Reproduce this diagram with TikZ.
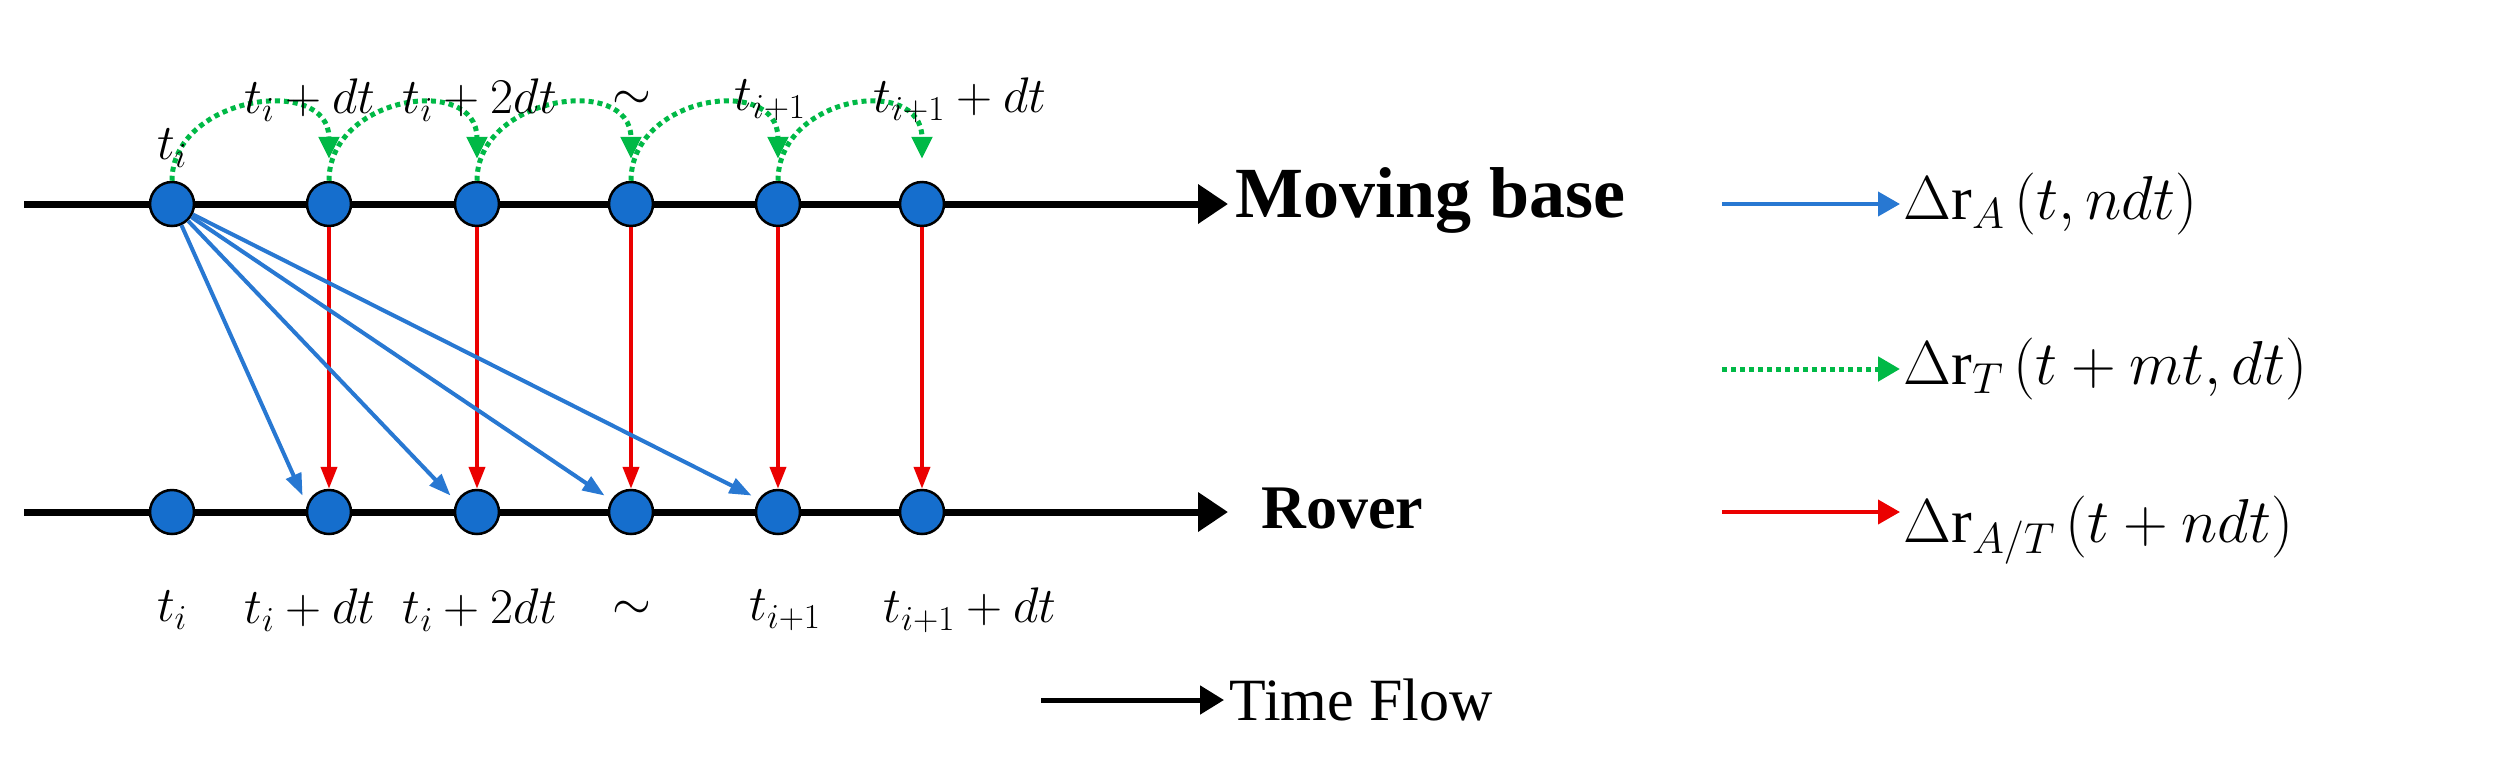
\RequirePackage{fix-cm}
\documentclass[tikz,border=0pt]{standalone}
\usepackage{fontspec}
\setmainfont{Liberation Serif}
\usetikzlibrary{arrows.meta}
\begin{document}
\begin{tikzpicture}[x=1pt,y=-1pt,
  dot/.style={circle,fill={rgb,255:red,21;green,110;blue,205},draw=black,line width=2.5pt,minimum size=44pt,inner sep=0pt},
  axis/.style={line width=7pt,-{Triangle[length=30pt,width=38pt]}},
  blu/.style={draw={rgb,255:red,40;green,120;blue,210},line width=4pt,-{Triangle[length=22pt,width=16pt]}},
  rd/.style={draw={rgb,255:red,235;green,0;blue,0},line width=4pt,-{Triangle[length=22pt,width=16pt]}},
  grn/.style={draw={rgb,255:red,0;green,185;blue,70},line width=5pt,dash pattern=on 5pt off 4pt,-{Triangle[length=22pt,width=20pt]}},
  lab/.style={font=\fontsize{50}{60}\selectfont},
  big/.style={font=\fontsize{72}{86}\selectfont\bfseries,anchor=west},
  frm/.style={font=\fontsize{62}{74}\selectfont,anchor=west}]
\useasboundingbox (0,0) rectangle (2493,764);
\coordinate (s1) at (24,204); \coordinate (e1) at (1228,204);
\coordinate (s2) at (24,512); \coordinate (e2) at (1228,512);
\draw[axis] (s1) -- (e1);
\draw[axis] (s2) -- (e2);
\foreach \i/\x in {0/172,1/329,2/477,3/631,4/778,5/922}{
  \node[dot] (a\i) at (\x,204) {};
  \node[dot] (b\i) at (\x,512) {};
}
% green arcs
\foreach \i/\j in {0/1,1/2,2/3,3/4,4/5}{
  \coordinate (g\j) at ([yshift=22pt]a\j.north);
  \draw[grn] (a\i.north) .. controls ([yshift=85pt]a\i.north) and ([yshift=85pt]g\j) .. (g\j);
}
% red
\foreach \i in {1,...,5}{\draw[rd] (a\i.south) -- (b\i.north);}
% blue
\foreach \i in {1,...,4}{\draw[blu] (a0) -- ([xshift=-10pt]b\i.north west);}
% labels top
\node[lab] (lt0) at (172,148) {$t_i$};
\node[lab] (lt1) at (310,100) {$t_i+dt$};
\node[lab] (lt2) at (480,100) {$t_i+2dt$};
\node[lab] (lt3) at (632,100) {$\sim$};
\node[lab] (lt4) at (770,100) {$t_{i+1}$};
\node[lab] (lt5) at (960,100) {$t_{i+1}+dt$};
\node[lab] (lb0) at (172,610) {$t_i$};
\node[lab] (lb1) at (310,610) {$t_i+dt$};
\node[lab] (lb2) at (480,610) {$t_i+2dt$};
\node[lab] (lb3) at (632,610) {$\sim$};
\node[lab] (lb4) at (785,610) {$t_{i+1}$};
\node[lab] (lb5) at (970,610) {$t_{i+1}+dt$};
\node[big] (mb) at (1232,200) {Moving base};
\node[big,font=\fontsize{62}{74}\selectfont\bfseries] (rv) at (1258,508) {Rover};
% legend
\coordinate (l1) at (1722,204); \coordinate (l1e) at (1900,204);
\coordinate (l2) at (1722,369); \coordinate (l2e) at (1900,369);
\coordinate (l3) at (1722,512); \coordinate (l3e) at (1900,512);
\draw[blu,-{Triangle[length=22pt,width=24pt]}] (l1) -- (l1e);
\draw[grn,-{Triangle[length=22pt,width=24pt]}] (l2) -- (l2e);
\draw[rd,-{Triangle[length=22pt,width=24pt]}] (l3) -- (l3e);
\node[frm] (f1) at (1900,204) {$\Delta\mathrm{r}_A\left(t,ndt\right)$};
\node[frm] (f2) at (1900,369) {$\Delta\mathrm{r}_T\left(t+mt,dt\right)$};
\node[frm] (f3) at (1900,530) {$\Delta\mathrm{r}_{A/T}\left(t+ndt\right)$};
\coordinate (tf1) at (1041,700); \coordinate (tf2) at (1224,700);
\draw[line width=5pt,-{Triangle[length=24pt,width=28pt]}] (tf1) -- (tf2);
\node[font=\fontsize{60}{72}\selectfont,anchor=west] (tf) at (1226,700) {Time Flow};
\end{tikzpicture}
\end{document}
